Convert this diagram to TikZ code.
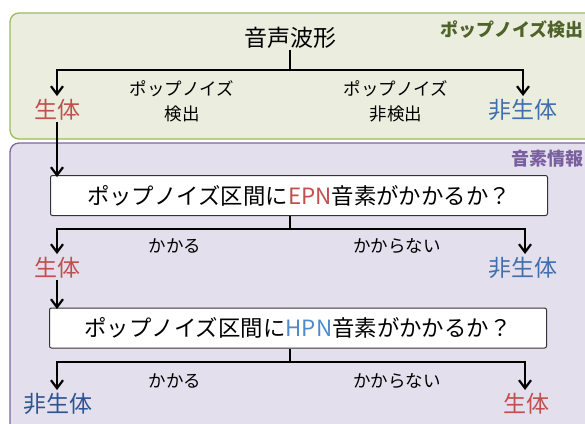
\documentclass[tikz,border=0pt]{standalone}
\usepackage{fontspec}
\setmainfont{Noto Sans CJK JP}
\usetikzlibrary{arrows.meta}
\definecolor{gfill}{HTML}{EBEEDE}
\definecolor{gdraw}{HTML}{9BBB59}
\definecolor{gtext}{HTML}{4F6228}
\definecolor{pfill}{HTML}{E4DFEC}
\definecolor{pdraw}{HTML}{8064A2}
\definecolor{ptext}{HTML}{7A5FA0}
\definecolor{myred}{HTML}{C0504D}
\definecolor{myblue}{HTML}{3F6FAD}
\definecolor{mynavy}{HTML}{2A5592}
\definecolor{hpnblue}{HTML}{4F8BCB}
\tikzset{
  conn/.style={line width=2.4pt, black},
  arr/.style={conn, -{Straight Barb[length=8pt,width=12pt,line width=2.2pt]}},
  big/.style={font=\fontsize{23}{26}\selectfont, inner sep=1pt},
  small/.style={font=\fontsize{17.5}{25}\selectfont, align=center, inner sep=1pt},
  qbox/.style={draw=black!80, line width=1pt, fill=white, rounded corners=2pt,
    minimum width=497pt, minimum height=40pt, font=\fontsize{22.4}{24}\selectfont, inner sep=0pt},
  paneltitle/.style={font=\fontsize{18}{20}\selectfont\bfseries, anchor=east, inner sep=0pt},
}
\begin{document}
\begin{tikzpicture}[x=1pt,y=-1pt]
\useasboundingbox (0,0) rectangle (585,423);
% panels
\draw[fill=gfill, draw=gdraw, line width=1.3pt, rounded corners=9pt] (10,13) rectangle (610,139);
\draw[fill=pfill, draw=pdraw, line width=1.3pt, rounded corners=9pt] (10,143) rectangle (610,450);
\node[paneltitle, text=gtext] (t1) at (584,29.5) {ポップノイズ検出};
\node[paneltitle, text=ptext] (t2) at (584,159) {音素情報};

% level 1
\node[big] (wave) at (290,38) {音声波形};
\coordinate (j1) at (290,70);
\node[big, anchor=north, text=myred] (L1) at (57,98) {生体};
\node[big, anchor=north, text=myblue] (R1) at (523,98) {非生体};
\node[small] (lab1) at (182,101) {ポップノイズ\\検出};
\node[small] (lab2) at (396,101) {ポップノイズ\\非検出};
\draw[conn] (wave.south) -- (j1);
\draw[arr] (j1) -| (57,96);
\draw[arr] (j1) -| (523,96);

% level 2
\node[qbox] (q1) at (299,195.5) {ポップノイズ区間に\textcolor{myred}{EPN}音素がかかるか？};
\draw[arr] (L1.south -| 57,0) -- (57,177);
\coordinate (j2) at (290,229);
\node[big, anchor=north, text=myred] (L2) at (57,256) {生体};
\node[big, anchor=north, text=myblue] (R2) at (523,256) {非生体};
\node[small] (lab3) at (175,246) {かかる};
\node[small] (lab4) at (397,246) {かからない};
\draw[conn] (q1.south -| j2) -- (j2);
\draw[arr] (j2) -| (57,254);
\draw[arr] (j2) -| (525,254);

% level 3
\node[qbox] (q2) at (298,328) {ポップノイズ区間に\textcolor{hpnblue}{HPN}音素がかかるか？};
\draw[arr] (L2.south -| 57,0) -- (57,309);
\coordinate (j3) at (290,362);
\node[big, anchor=north, text=mynavy] (L3) at (58,392) {非生体};
\node[big, anchor=north, text=myred] (R3) at (526,392) {生体};
\node[small] (lab5) at (175,381) {かかる};
\node[small] (lab6) at (397,381) {かからない};
\draw[conn] (q2.south -| j3) -- (j3);
\draw[arr] (j3) -| (57,390);
\draw[arr] (j3) -| (525,390);
\end{tikzpicture}
\end{document}
